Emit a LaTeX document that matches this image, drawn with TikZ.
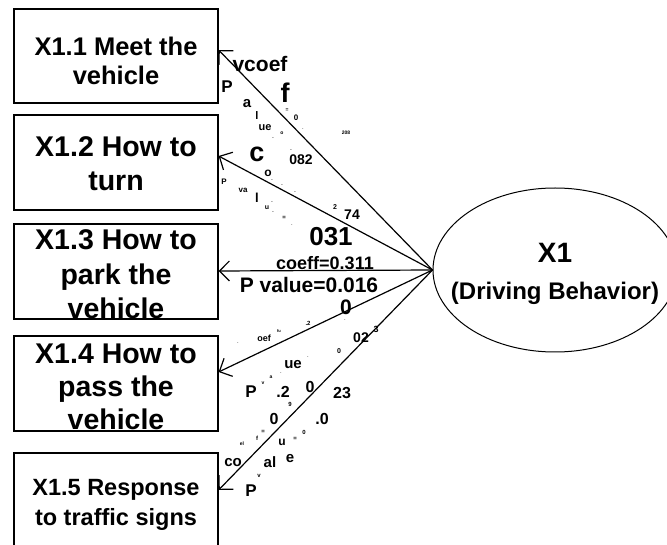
\documentclass[tikz,border=0pt]{standalone}
\usepackage{fontspec}
\setmainfont{Liberation Sans}
\usetikzlibrary{
    arrows.meta,
    shapes.geometric
}
\tikzset {
    box/.style = {draw, line width = 1.2pt, minimum width = 204pt, inner sep = 0pt},
    boxtext/.style 2 args = {align = center, inner sep = 0pt, font = \bfseries\fontsize{#1}{#2}\selectfont},
    factor/.style = {draw, ellipse, line width = 1pt, minimum width = 244pt, minimum height = 164pt, inner sep = 0pt},
    link/.style = {line width = 1.2pt, arrows = {-Straight Barb[length = 10pt, width = 20pt]}},
    frag/.style = {inner sep = 0pt, font = \bfseries},
}

\begin{document}
\begin{tikzpicture}[x = 1pt, y = -1pt]
            \useasboundingbox (0, 0) rectangle (667, 545);
            % indicators
            \node (b1) [box, minimum height = 94pt] at (116, 56) {};
            \node (b2) [box, minimum height = 95pt] at (116, 162.5) {};
            \node (b3) [box, minimum height = 95pt] at (116, 271.5) {};
            \node (b4) [box, minimum height = 95pt] at (116, 383.5) {};
            \node (b5) [box, minimum height = 95pt] at (116, 500.5) {};
            \node (t1) [boxtext = {25.5}{29}] at (116, 61) {X1.1 Meet the\\vehicle};
            \node (t2) [boxtext = {28.5}{34}] at (116, 164) {X1.2 How to\\turn};
            \node (t3) [boxtext = {28.5}{34.5}] at (116, 274.5) {X1.3 How to\\park the\\vehicle};
            \node (t4) [boxtext = {28.5}{33}] at (116, 387) {X1.4 How to\\pass the\\vehicle};
            \node (t5) [boxtext = {23.5}{30}] at (116, 505) {X1.5 Response\\to traffic signs};
            % latent variable
            \node (x) [factor] at (555, 270) {};
            \node (xt) [boxtext = {28}{37}] at (555, 274) {X1\\{\fontsize{24}{37}\selectfont (Driving Behavior)}};
            % loadings
            \draw [link] (x.west) -- ([yshift = 6pt] b1.east);
            \draw [link] (x.west) -- ([yshift = 6.5pt] b2.east);
            \draw [link] (x.west) -- ([yshift = 0.5pt] b3.east);
            \draw [link] (x.west) -- ([yshift = 11.5pt] b4.east);
            \draw [link] (x.west) -- ([yshift = 10.5pt] b5.east);
            \node (c3) [frag, font = \bfseries\fontsize{18}{18}\selectfont] at (325, 263) {coeff=0.311};
            \node (p3) [frag, font = \bfseries\fontsize{21}{21}\selectfont] at (309, 285) {P value=0.016};
            % scattered label pieces
            \foreach \x/\y/\s/\w [count = \i] in {
                260/64/21/vcoef, 227/87/17/P, 285/93/27/f, 247/104/15/a,
                257/116/11/l, 265/128/11/ue, 287/110/5/=, 296/118/8/0,
                303/129/4/., 282/133/5/o, 273/138/5/., 346/133/5/208,
                291/150/5/., 301/160/14/082, 257/154/27/c, 268/173/12/o,
                272/180/5/., 282/185/5/., 295/192/5/., 224/182/8/P,
                243/190/8/va, 257/198/13/l, 272/202/5/., 267/208/7/u,
                273/212/5/., 284/218/6/=, 292/225/4/., 335/207/7/2,
                352/215/14/74, 331/237/26/031,
                346/307/21/0, 345/320/4/., 308/323/6/.2, 279/331/4/fu,
                264/338/9/oef, 238/343/4/., 361/338/14/02, 376/329/9/3,
                339/351/7/0, 293/365/15/ue, 308/357/4/., 271/377/5/a,
                263/383/5/v, 281/373/4/., 251/392/17/P, 283/392/16/.2,
                290/404/6/9, 310/387/16/0, 342/393/16/23, 274/419/16/0,
                322/419/16/.0, 242/444/5/el, 257/438/6/f, 263/432/6/=,
                282/442/12/u, 295/439/6/=, 304/432/6/0, 233/463/15/co,
                270/462/15/al, 290/459/15/e, 259/476/6/v, 251/491/17/P
            } {
                \node (f\i) [frag] at (\x, \y) {\fontsize{\s}{\s}\selectfont \w};
            }
        \end{tikzpicture}
\end{document}
